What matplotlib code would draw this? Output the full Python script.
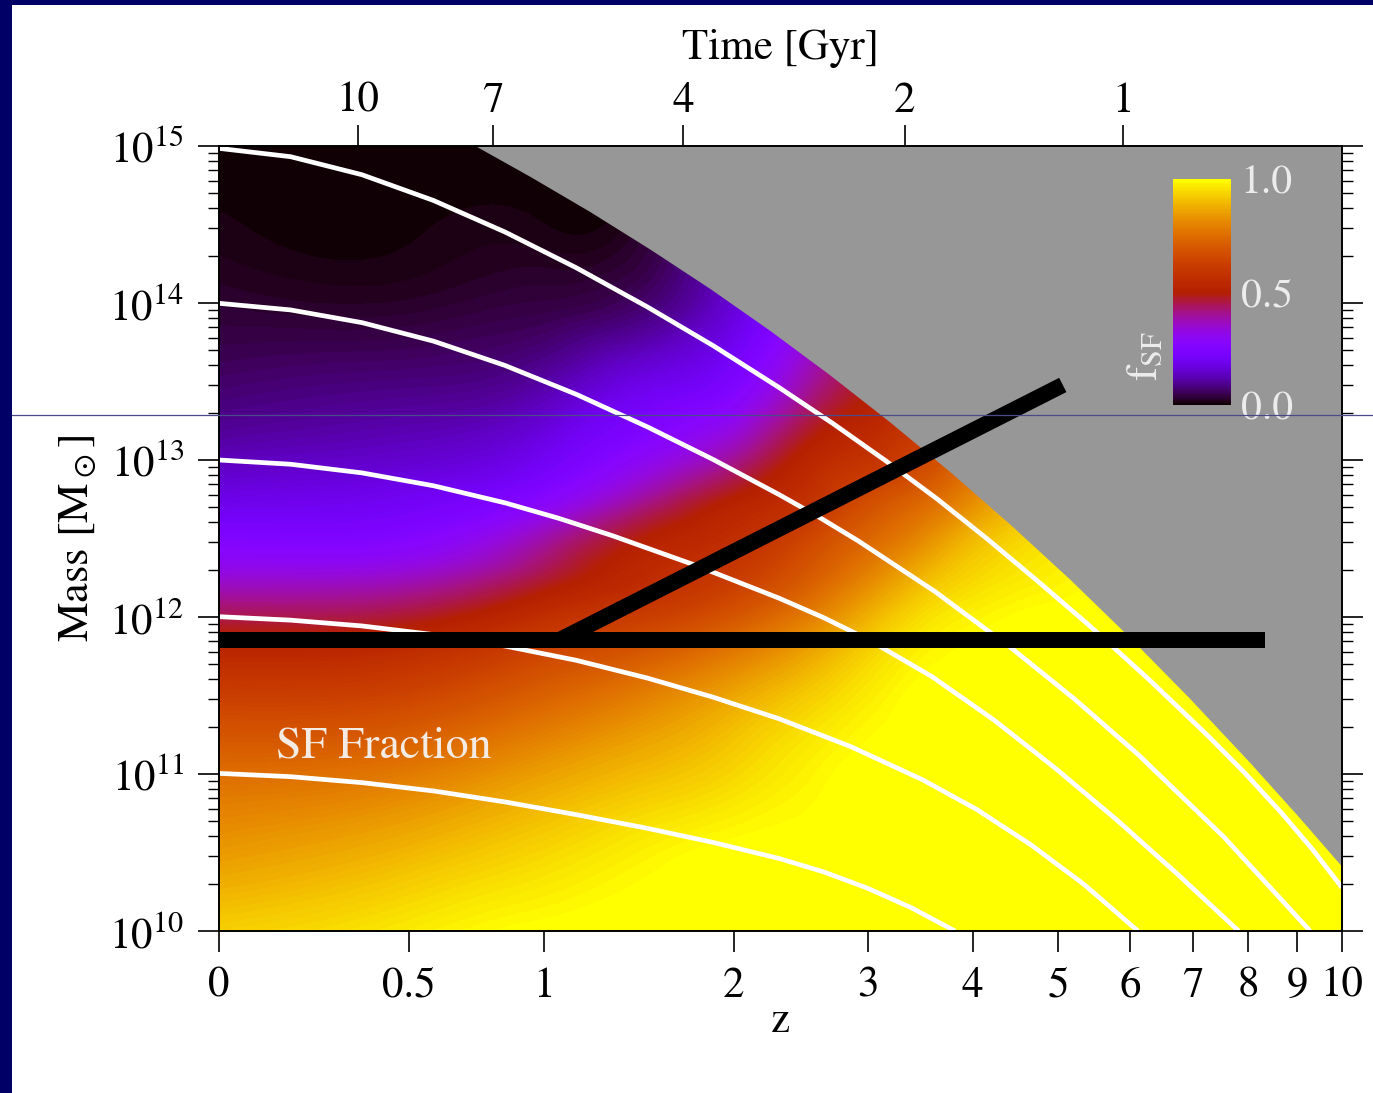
import numpy as np
import matplotlib
matplotlib.use('Agg')
import matplotlib.pyplot as plt
import matplotlib.tri as mtri
from matplotlib.patches import Rectangle
from matplotlib.lines import Line2D
from matplotlib.ticker import LogLocator, NullLocator, FixedLocator

plt.rcParams['font.family'] = ['STIXGeneral', 'DejaVu Sans']
plt.rcParams['mathtext.fontset'] = 'stix'

# ---------------- data ----------------
z_nodes = [0, 0.5, 1, 1.5, 2, 2.5, 3, 3.5, 4, 5, 6, 10]
logm_nodes = [10.0, 10.5, 11.0, 11.5, 12.0, 12.25, 12.5, 12.75, 13.0, 13.5, 14.0, 14.5, 14.75, 15.0]
# star-forming fraction, rows = logm_nodes, columns = z_nodes
fsf_grid = [
    [0.93, 0.97, 1.00, 1.00, 1.00, 1.00, 1.00, 1.00, 1.00, 1.00, 1.00, 1.00],
    [0.84, 0.89, 0.94, 0.98, 1.00, 1.00, 1.00, 1.00, 1.00, 1.00, 1.00, 1.00],
    [0.75, 0.78, 0.85, 0.90, 0.94, 0.98, 1.00, 1.00, 1.00, 1.00, 1.00, 1.00],
    [0.62, 0.64, 0.72, 0.79, 0.86, 0.92, 0.97, 1.00, 1.00, 1.00, 1.00, 1.00],
    [0.45, 0.47, 0.56, 0.62, 0.69, 0.78, 0.88, 0.95, 0.98, 1.00, 1.00, 1.00],
    [0.34, 0.36, 0.46, 0.55, 0.61, 0.70, 0.80, 0.89, 0.94, 0.98, 1.00, 1.00],
    [0.25, 0.26, 0.38, 0.50, 0.56, 0.64, 0.73, 0.81, 0.89, 0.96, 0.99, 1.00],
    [0.18, 0.20, 0.27, 0.40, 0.50, 0.57, 0.66, 0.73, 0.81, 0.93, 0.97, 1.00],
    [0.13, 0.15, 0.20, 0.30, 0.40, 0.52, 0.58, 0.65, 0.75, 0.90, 0.95, 1.00],
    [0.065, 0.08, 0.11, 0.18, 0.24, 0.38, 0.48, 0.56, 0.65, 0.85, 0.92, 1.00],
    [0.03, 0.025, 0.04, 0.07, 0.16, 0.28, 0.40, 0.50, 0.60, 0.80, 0.90, 1.00],
    [0.01, 0.005, 0.008, 0.03, 0.12, 0.20, 0.35, 0.45, 0.55, 0.75, 0.88, 1.00],
    [0.003, 0.0, 0.0, 0.02, 0.10, 0.18, 0.33, 0.43, 0.52, 0.72, 0.86, 1.00],
    [0.0, 0.0, 0.0, 0.01, 0.08, 0.15, 0.30, 0.40, 0.50, 0.70, 0.85, 1.00],
]

# upper edge of the populated region (grey above)
bound_z = [0.730, 0.943, 1.208, 1.510, 1.853, 2.244, 2.687, 3.191, 3.763, 4.414,
           5.153, 5.993, 6.949, 8.036, 9.055, 10.0]
bound_logm = [15.0, 14.806, 14.582, 14.343, 14.092, 13.824, 13.541, 13.241, 12.925, 12.591,
              12.240, 11.869, 11.480, 11.073, 10.718, 10.410]

# mass accretion histories (white tracks)
trackA_z = [0, 0.165, 0.357, 0.581, 0.842, 1.145, 1.496, 1.873, 2.306, 2.710, 3.164,
            3.634, 4.154, 4.759, 5.438, 6.308, 7.298, 7.962, 8.676, 9.316, 10.0]
trackA_logm = [14.985, 14.932, 14.817, 14.653, 14.452, 14.224, 13.975, 13.728, 13.462, 13.232,
               12.989, 12.752, 12.499, 12.222, 11.936, 11.593, 11.231, 10.998, 10.749, 10.524, 10.277]
trackB_z = [0, 0.165, 0.357, 0.581, 0.842, 1.145, 1.496, 1.873, 2.306, 2.597, 2.913,
            3.613, 4.437, 5.220, 6.115, 7.550, 9.276]
trackB_logm = [13.998, 13.956, 13.875, 13.757, 13.602, 13.418, 13.211, 13.003, 12.780, 12.638,
               12.486, 12.162, 11.799, 11.475, 11.125, 10.598, 10.0]
trackC_z = [0, 0.165, 0.357, 0.581, 0.842, 1.065, 1.314, 1.767, 2.306, 2.639, 3.006,
            3.579, 4.232, 4.961, 5.787, 6.731, 7.822]
trackC_logm = [13.0, 12.973, 12.918, 12.836, 12.727, 12.629, 12.519, 12.329, 12.120, 11.995,
               11.854, 11.622, 11.344, 11.038, 10.713, 10.366, 10.0]
trackD_z = [0, 0.165, 0.357, 0.581, 0.842, 1.145, 1.496, 1.873, 2.306, 2.855, 3.496,
            4.046, 4.662, 5.343, 6.115]
trackD_logm = [12.002, 11.980, 11.943, 11.888, 11.815, 11.724, 11.611, 11.489, 11.352, 11.174,
               10.962, 10.773, 10.549, 10.296, 10.0]
trackE_z = [0, 0.165, 0.357, 0.581, 0.842, 1.145, 1.496, 1.873, 2.306, 2.632, 2.990,
            3.383, 3.814]
trackE_logm = [11.004, 10.983, 10.945, 10.892, 10.822, 10.741, 10.654, 10.564, 10.462, 10.378,
               10.274, 10.149, 10.0]

# black annotation strokes
hbar_z = [0, 8.33]
hbar_logm = [11.854, 11.854]
diag_z = [1.07, 5.06]
diag_logm = [11.854, 13.478]

z_ticks = [0, 0.5, 1, 2, 3, 4, 5, 6, 7, 8, 9, 10]
z_ticklabels = ['0', '0.5', '1', '2', '3', '4', '5', '6', '7', '8', '9', '10']
age_ticks = [10, 7, 4, 2, 1]
cbar_ticks = [0.0, 0.5, 1.0]

# cosmology for the time axis
Om, OL, H0 = 0.25, 0.75, 72.0


def z_of_age(t):
    A = 2.0 / (3.0 * np.sqrt(OL)) * 977.8 / H0
    x = np.sinh(np.asarray(t, float) / A)
    return (x / np.sqrt(OL / Om)) ** (-2.0 / 3.0) - 1.0


def fwd(z):
    z = np.asarray(z, float)
    return np.log10(np.maximum(1.0 + z, 1e-12))


def inv(u):
    return 10.0 ** np.asarray(u, float) - 1.0


W, H = 1373, 1093
fig = plt.figure(figsize=(W / 100, H / 100), dpi=100, facecolor='white')

# navy slide border
fig.patches.append(Rectangle((0, 0), 12 / W, 1, transform=fig.transFigure,
                             facecolor='#000066', edgecolor='none', zorder=0))
fig.patches.append(Rectangle((0, 1 - 5 / H), 1, 5 / H, transform=fig.transFigure,
                             facecolor='#000066', edgecolor='none', zorder=0))

ax = fig.add_axes([219 / W, 1 - 931 / H, (1342 - 219) / W, (931 - 146) / H])
ax.set_xscale('function', functions=(fwd, inv))
ax.set_yscale('log')

# smooth shading: library cubic refinement in the axis' own (scaled) space
U, LM = np.meshgrid(fwd(z_nodes), np.array(logm_nodes))
F = np.array(fsf_grid)
tri = mtri.Triangulation(U.ravel(), LM.ravel())
tri_fine, f_fine = mtri.UniformTriRefiner(tri).refine_field(F.ravel(), subdiv=3)
f_fine = np.clip(f_fine, 0.0005, 0.9995)
tri_zm = mtri.Triangulation(inv(tri_fine.x), 10.0 ** tri_fine.y, tri_fine.triangles)
cs = ax.tricontourf(tri_zm, f_fine, levels=np.linspace(0, 1, 129), cmap='gnuplot',
                    antialiased=False, zorder=1)

bz = np.array(bound_z)
bm = 10.0 ** np.array(bound_logm)
ax.fill_between(bz, bm, 1.2e15, color='#979797', linewidth=0, zorder=2)

for tz, tm in [(trackA_z, trackA_logm), (trackB_z, trackB_logm), (trackC_z, trackC_logm),
               (trackD_z, trackD_logm), (trackE_z, trackE_logm)]:
    ax.plot(tz, 10.0 ** np.array(tm), color='white', lw=3.4, zorder=3,
            solid_capstyle='butt', solid_joinstyle='round')

ax.plot(hbar_z, 10.0 ** np.array(hbar_logm), color='black', lw=11.5, zorder=5,
        solid_capstyle='butt', clip_on=False)
ax.plot(diag_z, 10.0 ** np.array(diag_logm), color='black', lw=11.5, zorder=5,
        solid_capstyle='butt', clip_on=False)

ax.text(0.13, 10 ** 11.17, 'SF Fraction', color='#f4ece4', fontsize=33,
        va='center', ha='left', zorder=4)

ax.set_xlim(0, 10)
ax.set_ylim(1e10, 1e15)
ax.xaxis.set_major_locator(FixedLocator(z_ticks))
ax.set_xticklabels(z_ticklabels)
ax.xaxis.set_minor_locator(NullLocator())
ax.yaxis.set_major_locator(LogLocator(base=10, numticks=10))
ax.yaxis.set_minor_locator(LogLocator(base=10, subs=np.arange(2, 10), numticks=20))
ax.tick_params(axis='both', which='major', direction='out', length=15, width=1.2,
               labelsize=31, color='black')
ax.tick_params(axis='y', which='minor', direction='out', length=8, width=1.0)
ax.tick_params(axis='y', which='both', right=True, labelright=False)
ax.tick_params(axis='x', which='both', top=False, pad=11)
ax.tick_params(axis='y', which='major', pad=10)
for s in ax.spines.values():
    s.set_linewidth(1.4)
    s.set_zorder(6)
ax.set_xlabel('z', fontsize=31, labelpad=-2)
ax.set_ylabel(r'Mass [M$_\odot$]', fontsize=32, labelpad=8)

axt = ax.twiny()
axt.set_xscale('function', functions=(fwd, inv))
axt.set_xlim(0, 10)
axt.xaxis.set_major_locator(FixedLocator(z_of_age(age_ticks)))
axt.set_xticklabels([str(a) for a in age_ticks])
axt.xaxis.set_minor_locator(NullLocator())
axt.tick_params(axis='x', which='major', direction='out', length=15, width=1.2,
                labelsize=31, pad=3)
axt.set_xlabel('Time [Gyr]', fontsize=31, labelpad=17)
for s in axt.spines.values():
    s.set_visible(False)

# colour bar inset
cax = fig.add_axes([1173 / W, 1 - 405 / H, 58 / W, 226 / H])
cb = fig.colorbar(cs, cax=cax, ticks=cbar_ticks)
cb.outline.set_visible(False)
cb.ax.set_yticklabels(['%.1f' % t for t in cbar_ticks])
cb.ax.tick_params(length=0, labelsize=30, labelcolor='#ececec', pad=7)
fig.text(1147 / W, 1 - 356 / H, r'$\mathrm{f}_{\mathrm{SF}}$', rotation=90,
         color='#ececec', fontsize=31, ha='center', va='center')

# thin slide rule
fig.add_artist(Line2D([12 / W, 1], [1 - 415 / H, 1 - 415 / H], transform=fig.transFigure,
                      color='#4b4b8c', lw=0.9, zorder=20))

fig.savefig('out.png', dpi=100, facecolor='white')
